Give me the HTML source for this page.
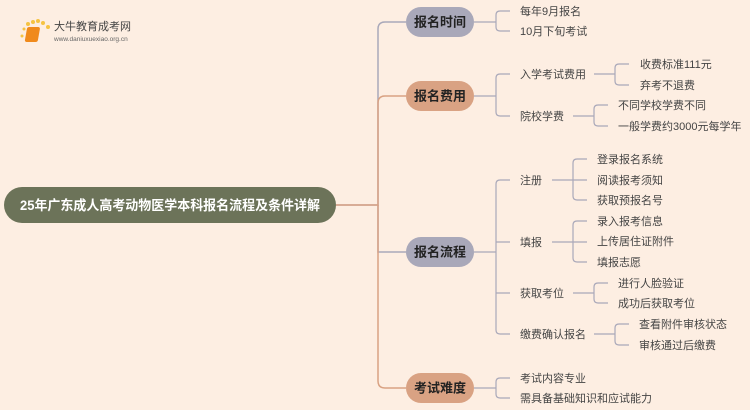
<!DOCTYPE html>
<html><head><meta charset="utf-8"><style>
body{margin:0;background:#fdeee2;}
svg{display:block}
text{font-family:"Liberation Sans","Noto Sans CJK SC",sans-serif;}
.l{font-size:11px;fill:#444;}
.b{font-size:13px;font-weight:bold;fill:#222;}
</style></head><body>
<svg width="750" height="410" viewBox="0 0 750 410" xmlns="http://www.w3.org/2000/svg">
<rect width="750" height="410" fill="#fdeee2"/>
<g>
<circle cx="28" cy="24" r="2" fill="#f5c342"/><circle cx="33" cy="22" r="2" fill="#f5c342"/><circle cx="38" cy="21" r="2" fill="#f5c342"/><circle cx="43" cy="23" r="2" fill="#f5c342"/><circle cx="48" cy="27" r="2" fill="#f5c342"/><circle cx="24" cy="29" r="1.5" fill="#f5c342"/><circle cx="22" cy="36" r="1.5" fill="#f5c342"/>
<rect x="32" y="27" width="13" height="15" rx="2" fill="#f08a1c" transform="skewX(-10)"/>
<text x="54" y="30" style="font-size:11px;fill:#444">大牛教育成考网</text>
<text x="54" y="41" style="font-size:6.5px;fill:#666">www.daniuxuexiao.org.cn</text>
</g>
<g fill="none" stroke-width="1.5">
<path d="M336 205 H378 V29 Q378 22 385 22 H406" stroke="#a9a8b9"/>
<path d="M378 205 V252 H406" stroke="#a9a8b9"/>
<path d="M336 205 H378 V103 Q378 96 385 96 H406" stroke="#d9a283"/>
<path d="M378 205 V381 Q378 388 385 388 H406" stroke="#d9a283"/>
</g>
<g fill="none" stroke="#a9a8b9" stroke-width="1.2">
<path d="M474 22 H496 M510 11 H500 Q496 11 496 15 V27 Q496 31 500 31 H510"/>
<path d="M474 96 H496 M510 74 H500 Q496 74 496 78 V112 Q496 116 500 116 H510"/>
<path d="M594 74 H615 M629 64 H619 Q615 64 615 68 V81 Q615 85 619 85 H629"/>
<path d="M573 116 H594 M608 105 H598 Q594 105 594 109 V122 Q594 126 598 126 H608"/>
<path d="M474 252 H496 M510 180 H500 Q496 180 496 184 V330 Q496 334 500 334 H510 M496 242 H510 M496 293 H510"/>
<path d="M552 180 H587 M587 159 H577 Q573 159 573 163 V196 Q573 200 577 200 H587"/>
<path d="M552 242 H587 M587 221 H577 Q573 221 573 225 V258 Q573 262 577 262 H587"/>
<path d="M573 293 H594 M608 283 H598 Q594 283 594 287 V299 Q594 303 598 303 H608"/>
<path d="M594 334 H615 M629 324 H619 Q615 324 615 328 V341 Q615 345 619 345 H629"/>
<path d="M474 388 H496 M510 378 H500 Q496 378 496 382 V394 Q496 398 500 398 H510"/>
</g>
<rect x="4" y="187" width="332" height="36" rx="18" fill="#6c7359"/>
<text x="170" y="210" text-anchor="middle" textLength="300" lengthAdjust="spacingAndGlyphs" style="font-size:13.5px;font-weight:bold;fill:#fff">25年广东成人高考动物医学本科报名流程及条件详解</text>
<rect x="406" y="7" width="68" height="30" rx="15" fill="#a9a8b9"/><text class="b" x="440" y="26.5" text-anchor="middle">报名时间</text>
<rect x="406" y="81" width="68" height="30" rx="15" fill="#d9a283"/><text class="b" x="440" y="100.5" text-anchor="middle">报名费用</text>
<rect x="406" y="237" width="68" height="30" rx="15" fill="#a9a8b9"/><text class="b" x="440" y="256.5" text-anchor="middle">报名流程</text>
<rect x="406" y="373" width="68" height="30" rx="15" fill="#d9a283"/><text class="b" x="440" y="392.5" text-anchor="middle">考试难度</text>
<g>
<text class="l" x="520" y="15">每年9月报名</text>
<text class="l" x="520" y="35">10月下旬考试</text>
<text class="l" x="520" y="78">入学考试费用</text>
<text class="l" x="520" y="120">院校学费</text>
<text class="l" x="640" y="68">收费标准111元</text>
<text class="l" x="640" y="89">弃考不退费</text>
<text class="l" x="618" y="109">不同学校学费不同</text>
<text class="l" x="618" y="130">一般学费约3000元每学年</text>
<text class="l" x="520" y="184">注册</text>
<text class="l" x="597" y="163">登录报名系统</text>
<text class="l" x="597" y="184">阅读报考须知</text>
<text class="l" x="597" y="204">获取预报名号</text>
<text class="l" x="520" y="246">填报</text>
<text class="l" x="597" y="225">录入报考信息</text>
<text class="l" x="597" y="245">上传居住证附件</text>
<text class="l" x="597" y="266">填报志愿</text>
<text class="l" x="520" y="297">获取考位</text>
<text class="l" x="618" y="287">进行人脸验证</text>
<text class="l" x="618" y="307">成功后获取考位</text>
<text class="l" x="520" y="338">缴费确认报名</text>
<text class="l" x="639" y="328">查看附件审核状态</text>
<text class="l" x="639" y="349">审核通过后缴费</text>
<text class="l" x="520" y="382">考试内容专业</text>
<text class="l" x="520" y="402">需具备基础知识和应试能力</text>
</g>
</svg>
</body></html>
